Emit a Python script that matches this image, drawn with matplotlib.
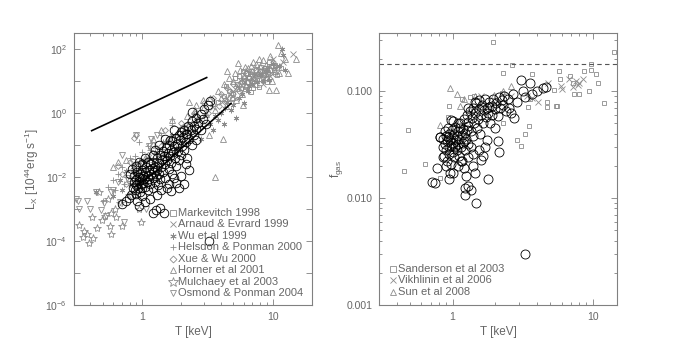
import matplotlib
matplotlib.use("Agg")
import matplotlib.pyplot as plt
from matplotlib.ticker import FixedLocator, FixedFormatter, NullLocator, NullFormatter

plt.rcParams['font.family'] = ['Liberation Sans', 'DejaVu Sans']
plt.rcParams['mathtext.fontset'] = 'custom'
plt.rcParams['mathtext.rm'] = 'Liberation Sans'
plt.rcParams['mathtext.it'] = 'Liberation Sans:italic'
plt.rcParams['mathtext.default'] = 'regular'

GREY = '#8c8c8c'
AXC = '#808080'
TXT = '#666666'

# ---------------- left panel: L_X - T ----------------
# black circles (group sample)
lx_circ = [
    (0.85, 0.0045), (0.86, 0.007), (0.87, 0.011), (0.88, 0.004), (0.89, 0.0055), (0.9, 0.0085),
    (0.9, 0.003), (0.91, 0.014), (0.92, 0.006), (0.93, 0.0045), (0.94, 0.01), (0.95, 0.0075),
    (0.96, 0.0035), (0.97, 0.0125), (0.98, 0.006), (0.99, 0.009), (1.0, 0.0045), (1.0, 0.016),
    (1.01, 0.0065), (1.02, 0.011), (1.04, 0.0085), (1.05, 0.005), (1.06, 0.014), (1.07, 0.02),
    (1.08, 0.007), (1.1, 0.0105), (1.1, 0.004), (1.12, 0.016), (1.13, 0.0085), (1.15, 0.025),
    (1.15, 0.006), (1.17, 0.012), (1.18, 0.0185), (1.2, 0.009), (1.2, 0.0045), (1.22, 0.03),
    (1.23, 0.014), (1.25, 0.007), (1.26, 0.021), (1.28, 0.011), (1.3, 0.04), (1.3, 0.017),
    (1.32, 0.0055), (1.34, 0.027), (1.35, 0.012), (1.37, 0.0085), (1.38, 0.05), (1.4, 0.02),
    (1.42, 0.033), (1.44, 0.014),
    (1.45, 0.065), (1.47, 0.045), (1.5, 0.025), (1.5, 0.009), (1.52, 0.08), (1.55, 0.035),
    (1.57, 0.055), (1.6, 0.018), (1.6, 0.1), (1.63, 0.045), (1.65, 0.07), (1.67, 0.028),
    (1.7, 0.13), (1.7, 0.012), (1.73, 0.06), (1.75, 0.09), (1.78, 0.04), (1.8, 0.16),
    (1.82, 0.022), (1.85, 0.11), (1.88, 0.065), (1.9, 0.2), (1.92, 0.035), (1.95, 0.14),
    (1.98, 0.05), (2.0, 0.25), (2.02, 0.09), (2.05, 0.18), (2.1, 0.3), (2.1, 0.07),
    (2.15, 0.12), (2.2, 0.22), (2.2, 0.04),
    (2.25, 0.4), (2.3, 0.15), (2.35, 0.3), (2.4, 0.55), (2.4, 0.1), (2.5, 0.38), (2.5, 0.2),
    (2.6, 0.7), (2.6, 0.14), (2.7, 0.5), (2.8, 0.95), (2.8, 0.3), (2.9, 0.65), (3.0, 1.3),
    (3.1, 0.45), (3.2, 1.8), (3.3, 2.3), (2.4, 1.07),
    (0.75, 0.0018), (0.7, 0.0014), (0.79, 0.0022), (0.82, 0.0028), (0.92, 0.0018), (0.95, 0.0012),
    (1.0, 0.0025), (1.05, 0.0016), (1.2, 0.00075), (1.27, 0.0009), (1.36, 0.0011), (1.48, 0.00075),
    (1.15, 0.0021), (1.3, 0.0028), (1.4, 0.004), (1.55, 0.0045), (1.6, 0.006), (1.67, 0.0037),
    (1.8, 0.0065), (1.93, 0.0044), (2.1, 0.006), (2.0, 0.011), (2.17, 0.026), (2.3, 0.017),
    (1.75, 0.009), (3.27, 0.0001),
    (0.8, 0.012), (0.83, 0.018), (0.9, 0.022), (0.95, 0.03), (1.0, 0.025), (1.05, 0.04),
    (1.1, 0.03), (1.2, 0.05), (1.25, 0.07), (1.35, 0.1), (1.5, 0.15), (1.62, 0.14), (1.75, 0.3),
    (2.17, 0.22), (2.6, 0.31),
]

markevitch = [
    (3.8, 2.2), (4.2, 3.5), (4.6, 5.0), (5.0, 4.0), (5.3, 8.0), (5.7, 6.0), (6.0, 10), (6.3, 7.0),
    (6.6, 12), (7.0, 9.0), (7.3, 15), (7.6, 11), (8.0, 20), (8.4, 13), (8.8, 25), (9.2, 17),
    (9.7, 30), (10.2, 22), (6.8, 4.5), (5.5, 14), (10.8, 15), (7.8, 6.5), (4.9, 2.8), (9.0, 9.0),
    (6.2, 18), (5.1, 12), (5.9, 20), (6.7, 16), (7.5, 22), (8.2, 27), (9.4, 40), (10.5, 32),
    (11.5, 25), (6.1, 5.5), (7.1, 6.0), (4.4, 7.0), (8.9, 12),
]
arnaud = [
    (14.2, 68), (11, 30), (9, 25), (8, 18), (7, 12), (6, 9), (5, 5), (4.5, 3), (3.5, 1.5),
    (10, 50), (12, 40), (6.5, 20), (8.5, 8), (5.6, 11), (7.6, 25), (4.1, 2.2), (9.5, 14),
    (6.2, 13), (7.3, 17), (8.8, 22), (9.8, 17), (5.4, 7), (4.7, 4),
]
wu = [
    (0.44, 0.0033), (11.7, 100), (11.2, 30), (12.5, 22), (2.5, 0.3), (3.0, 0.8), (3.5, 0.3),
    (4.0, 1.0), (4.8, 1.2), (5.5, 3.0), (6.0, 2.0), (7.0, 8.0), (8.0, 15), (9.0, 20), (10, 35),
    (2.0, 0.1), (1.5, 0.05), (1.2, 0.02), (0.9, 0.008), (0.7, 0.004), (3.8, 0.6), (4.5, 2.2),
    (2.8, 0.15), (3.3, 0.45), (2.2, 0.25), (1.8, 0.08), (1.3, 0.012), (1.0, 0.015), (0.8, 0.006),
    (0.6, 0.0025), (5.2, 0.7), (6.5, 5), (8.5, 10), (12.0, 65), (4.2, 0.45),
    (3.6, 0.8), (4.3, 1.4), (5.0, 1.8), (5.8, 4.0), (6.6, 7.0), (7.6, 9.5), (9.4, 11), (2.6, 0.6),
    (2.1, 0.4), (1.7, 0.2), (1.45, 0.12), (1.25, 0.06), (1.1, 0.04), (0.95, 0.03), (0.85, 0.02),
    (0.75, 0.015), (0.68, 0.008), (0.9, 0.012), (1.0, 0.009),
]
helsdon = [
    (1.7, 0.41), (1.7, 0.63), (0.95, 0.12), (0.8, 0.04), (0.7, 0.02), (1.0, 0.06), (1.2, 0.03),
    (0.6, 0.008), (0.85, 0.015), (1.3, 0.08), (1.5, 0.12), (2.2, 0.5), (0.55, 0.005), (0.9, 0.025),
    (1.1, 0.09), (2.5, 0.9), (0.75, 0.01), (0.65, 0.012), (1.05, 0.035), (0.78, 0.003),
    (0.92, 0.005), (1.4, 0.2), (0.5, 0.0018), (0.72, 0.006), (0.82, 0.009), (0.88, 0.045),
    (1.15, 0.07), (0.62, 0.004), (0.98, 0.018),
]
xue = [
    (0.65, 0.022), (0.9, 0.2), (0.87, 0.17), (1.2, 0.1), (1.5, 0.3), (2.0, 0.5), (3.0, 2.0),
    (4.0, 4.0), (5.0, 8.0), (6.0, 12), (7.0, 15), (8.0, 20), (9.0, 18), (10, 30), (2.5, 1.0),
    (1.8, 0.2), (1.1, 0.05), (0.8, 0.03), (0.7, 0.012), (3.5, 3.0), (4.5, 6.0), (5.5, 5.0),
    (6.5, 9.0), (0.75, 0.006), (1.0, 0.02), (1.35, 0.04), (2.7, 0.6),
    (3.2, 1.0), (3.9, 1.6), (4.3, 2.6), (5.2, 6.5), (5.8, 9.5), (6.8, 11), (7.5, 13), (8.7, 15),
    (2.9, 0.45), (2.3, 0.4), (1.6, 0.15), (1.4, 0.09),
]
horner = [
    (4.0, 3.0), (4.5, 20), (5.0, 10), (5.4, 36), (5.5, 8.0), (6.0, 15), (6.5, 25), (7.0, 20),
    (7.5, 35), (8.0, 30), (8.5, 45), (9.0, 25), (9.5, 60), (10, 40), (10.9, 135), (11.6, 73),
    (12.5, 50), (13, 18), (15, 48), (10.5, 20), (7.2, 12), (6.2, 7.0), (5.8, 4.0), (4.8, 4.5),
    (3.5, 2.0), (3.0, 1.5), (2.56, 1.2), (2.3, 2.2), (2.6, 1.8), (1.7, 0.6), (1.4, 0.3),
    (1.2, 0.15), (0.87, 0.018), (0.65, 0.03), (4.14, 0.15), (3.6, 0.0098), (3.27, 0.2),
    (5.9, 1.8), (9.3, 5.1), (10.6, 5.1), (8.2, 12), (6.8, 30), (7.8, 50), (9.8, 10), (5.2, 2.5),
    (0.75, 0.035), (0.6, 0.02), (1.05, 0.04), (2.0, 0.35),
    (4.2, 8), (4.6, 12), (5.1, 18), (5.6, 22), (6.1, 28), (6.6, 14), (7.1, 40), (7.7, 18),
    (8.3, 22), (8.9, 32), (9.6, 24), (10.4, 28), (11.2, 18), (5.3, 6), (6.4, 10), (7.4, 8),
    (8.6, 16), (3.8, 5), (3.3, 3), (2.9, 2.5), (2.7, 0.7), (3.1, 0.9), (3.6, 1.2), (4.4, 1.6),
    (5.0, 3.2), (2.4, 0.5), (2.2, 0.8), (1.9, 0.25),
]
mulchaey = [
    (0.33, 3.2e-4), (0.36, 2e-4), (0.39, 8.8e-5), (0.41, 5.7e-4), (0.49, 4.4e-4), (0.58, 7.5e-4),
    (0.58, 1.7e-4), (0.57, 2.9e-4), (0.63, 5.5e-4), (0.95, 1e-3), (0.98, 4e-4), (0.67, 1.5e-3),
    (0.47, 3.3e-3), (0.35, 1.3e-4), (0.42, 1.2e-4), (0.52, 6e-4), (0.7, 3e-4), (0.45, 2.5e-4),
    (0.62, 1e-3), (0.38, 1.6e-4), (0.55, 2e-3),
]
osmond = [
    (0.32, 1.8e-3), (0.33, 1e-3), (0.38, 1.8e-3), (0.44, 3.3e-3), (0.51, 1.5e-3), (0.53, 6.2e-4),
    (0.73, 3.8e-4), (0.9, 0.2), (1.17, 0.15), (1.44, 0.06), (1.7, 0.1), (1.07, 1e-3), (0.6, 0.004),
    (0.8, 0.006), (0.31, 2e-3), (0.48, 9e-4), (0.7, 0.05), (1.3, 0.2), (2.0, 0.3), (0.9, 0.012),
    (1.0, 0.03), (0.4, 1e-3), (0.82, 0.0025), (0.68, 0.0016), (0.58, 0.0035), (0.77, 0.009),
    (0.85, 0.03), (0.65, 0.007), (1.12, 0.09),
]
fit_T = [0.92, 1.3, 4.8]
fit_L = [0.0055, 0.016, 2.0]
ss_T = [0.41, 3.12]
ss_L = [0.28, 12.8]

lx_labels = ['Markevitch 1998', 'Arnaud & Evrard 1999', 'Wu et al 1999', 'Helsdon & Ponman 2000',
             'Xue & Wu 2000', 'Horner et al 2001', 'Mulchaey et al 2003', 'Osmond & Ponman 2004']

# ---------------- right panel: f_gas - T ----------------
fg_circ = [
    (0.85, 0.03), (0.86, 0.036), (0.87, 0.025), (0.88, 0.042), (0.89, 0.032), (0.9, 0.028),
    (0.9, 0.038), (0.91, 0.022), (0.92, 0.034), (0.93, 0.045), (0.94, 0.03), (0.95, 0.026),
    (0.95, 0.04), (0.96, 0.035), (0.97, 0.021), (0.98, 0.031), (0.99, 0.043), (1.0, 0.037),
    (1.0, 0.027), (1.01, 0.033), (1.02, 0.024), (1.03, 0.04), (1.04, 0.03), (1.05, 0.046),
    (1.06, 0.035), (1.07, 0.028), (1.08, 0.038), (1.1, 0.032), (1.1, 0.042), (1.11, 0.025),
    (1.12, 0.036), (1.14, 0.05), (1.15, 0.03), (1.16, 0.039), (1.17, 0.022), (1.18, 0.044),
    (1.2, 0.034), (1.2, 0.055), (1.22, 0.028), (1.23, 0.041), (1.25, 0.036), (1.26, 0.06),
    (1.28, 0.047), (1.3, 0.032), (1.3, 0.052),
    (1.33, 0.065), (1.35, 0.042), (1.37, 0.056), (1.4, 0.07), (1.4, 0.038), (1.43, 0.05),
    (1.45, 0.062), (1.48, 0.078), (1.5, 0.045), (1.52, 0.055), (1.55, 0.068), (1.58, 0.04),
    (1.6, 0.06), (1.62, 0.075), (1.65, 0.05), (1.68, 0.066), (1.7, 0.085), (1.72, 0.057),
    (1.75, 0.07), (1.8, 0.062), (1.82, 0.08), (1.85, 0.05), (1.9, 0.072), (1.92, 0.06),
    (1.95, 0.085), (2.0, 0.068), (2.05, 0.078), (2.1, 0.058), (2.15, 0.088), (2.2, 0.07),
    (2.25, 0.082), (2.3, 0.075), (2.35, 0.09), (2.4, 0.065), (2.5, 0.085), (2.55, 0.07),
    (2.6, 0.062), (2.77, 0.056), (2.7, 0.095),
    (3.1, 0.127), (3.6, 0.118), (4.4, 0.106), (4.66, 0.11), (3.2, 0.1), (3.7, 0.094),
    (2.9, 0.08), (3.3, 0.088), (4.0, 0.1),
    (3.27, 0.003), (1.48, 0.0089), (1.22, 0.0108), (1.36, 0.012), (1.79, 0.015), (0.75, 0.0139),
    (0.71, 0.014), (0.77, 0.019), (0.81, 0.037), (0.96, 0.017), (1.0, 0.017), (0.95, 0.015),
    (1.0, 0.053), (1.15, 0.022), (1.6, 0.0226), (2.14, 0.027), (2.1, 0.034), (1.7, 0.03),
    (1.3, 0.013), (1.25, 0.016), (1.4, 0.02), (1.45, 0.017), (1.2, 0.019), (1.1, 0.02),
    (0.85, 0.024), (0.9, 0.02), (1.3, 0.024), (1.55, 0.028), (1.75, 0.035), (1.65, 0.025),
    (2.0, 0.045), (1.35, 0.03), (1.4, 0.026), (1.23, 0.0125),
    (1.45, 0.08), (1.3, 0.07), (1.54, 0.082), (1.81, 0.071), (0.97, 0.054), (0.82, 0.037),
    (1.05, 0.031), (1.13, 0.045), (0.93, 0.037), (1.18, 0.033), (1.27, 0.043), (1.09, 0.05),
]
sanderson = [
    (1.95, 0.29), (2.67, 0.176), (2.3, 0.147), (3.68, 0.146), (5.8, 0.156), (5.9, 0.13),
    (9.7, 0.18), (9.8, 0.157), (8.7, 0.153), (10.6, 0.145), (10.9, 0.12), (14.3, 0.23),
    (12.1, 0.078), (9.4, 0.1), (8.0, 0.094), (7.4, 0.094), (6.9, 0.139), (7.3, 0.12),
    (5.33, 0.103), (5.5, 0.073), (5.6, 0.073), (4.73, 0.079), (4.7, 0.071), (3.5, 0.047),
    (3.3, 0.04), (3.07, 0.031), (2.9, 0.035), (3.45, 0.071), (3.55, 0.084), (2.27, 0.097),
    (2.3, 0.05), (1.16, 0.084), (0.95, 0.072), (0.93, 0.057), (0.48, 0.043), (0.45, 0.018),
    (0.64, 0.021), (0.81, 0.0155), (1.34, 0.088), (1.42, 0.09),
]
vikhlinin = [
    (4.06, 0.08), (4.8, 0.118), (5.95, 0.112), (6.0, 0.105), (7.2, 0.11), (8.0, 0.12),
    (7.6, 0.125), (8.6, 0.13), (2.6, 0.09), (1.6, 0.09), (3.4, 0.09), (6.8, 0.13), (3.7, 0.087),
    (7.9, 0.113),
]
sun = [
    (0.96, 0.106), (1.07, 0.095), (1.14, 0.072), (0.81, 0.048), (1.34, 0.066), (1.44, 0.09),
    (1.97, 0.092), (2.6, 0.112), (2.3, 0.1), (1.2, 0.085), (2.1, 0.08),
]
f_baryon = 0.18
fg_labels = ['Sanderson et al 2003', 'Vikhlinin et al 2006', 'Sun et al 2008']


def scatter(ax, data, marker, color, ms, mew=0.6):
    T, v = zip(*data)
    ax.plot(T, v, ls='none', marker=marker, mfc='none', mec=color, ms=ms, mew=mew)


def style(ax):
    ax.set_xscale('log')
    ax.set_yscale('log')
    for s in ax.spines.values():
        s.set_color(AXC)
        s.set_linewidth(0.8)
    ax.tick_params(which='both', direction='in', top=True, right=True,
                   colors=AXC, labelcolor=TXT, labelsize=7.5)
    ax.tick_params(which='major', length=4, width=0.6, pad=5)
    ax.tick_params(which='minor', length=2, width=0.6)
    ax.xaxis.set_major_locator(FixedLocator([1, 10]))
    ax.xaxis.set_major_formatter(FixedFormatter(['1', '10']))
    ax.xaxis.set_minor_locator(FixedLocator([0.3, 0.4, 0.5, 0.6, 0.7, 0.8, 0.9,
                                             2, 3, 4, 5, 6, 7, 8, 9, 20]))
    ax.xaxis.set_minor_formatter(NullFormatter())
    ax.set_xlabel('T [keV]', fontsize=8.5, color=TXT, labelpad=3)


def legend(ax, entries, x0, y0, dy):
    for i, (marker, label, ms) in enumerate(entries):
        y = y0 - i * dy
        ax.plot([x0], [y], transform=ax.transAxes, marker=marker, ms=ms, mfc='none',
                mec=GREY, mew=0.6, ls='none', clip_on=False)
        ax.text(x0 + 0.022, y, label, transform=ax.transAxes, fontsize=8,
                color=TXT, va='center', ha='left')


fig = plt.figure(figsize=(6.78, 3.39), dpi=100)
ax1 = fig.add_axes([0.1091, 0.1003, 0.351, 0.8024])
ax2 = fig.add_axes([0.5594, 0.1003, 0.351, 0.8024])

# left
scatter(ax1, markevitch, 's', GREY, 3.5)
scatter(ax1, arnaud, 'x', GREY, 3.8)
scatter(ax1, wu, (6, 2, 0), GREY, 4)
scatter(ax1, helsdon, '+', GREY, 4)
scatter(ax1, xue, 'D', GREY, 3)
scatter(ax1, horner, '^', GREY, 3.8)
scatter(ax1, mulchaey, '*', GREY, 6)
scatter(ax1, osmond, 'v', GREY, 3.8)
scatter(ax1, lx_circ, 'o', 'black', 6.2, 0.6)
ax1.plot(fit_T, fit_L, color='black', lw=1.2)
ax1.plot(ss_T, ss_L, color='black', lw=1.2)
style(ax1)
ax1.set_xlim(0.3, 20)
ax1.set_ylim(1e-6, 10 ** 2.5)
exps = list(range(-6, 3))
ax1.yaxis.set_major_locator(FixedLocator([10.0 ** k for k in exps]))
ax1.yaxis.set_major_formatter(FixedFormatter(
    [r'$10^{%d}$' % k if k % 2 == 0 else '' for k in exps]))
ax1.yaxis.set_minor_locator(NullLocator())
ax1.set_ylabel(r'L$_X$ [10$^{44}$erg s$^{-1}$]', fontsize=8.5, color=TXT, labelpad=3)
legend(ax1, [('s', lx_labels[0], 5), ('x', lx_labels[1], 4.5), ((6, 2, 0), lx_labels[2], 4.5),
             ('+', lx_labels[3], 4.5), ('D', lx_labels[4], 3.5), ('^', lx_labels[5], 4.5),
             ('*', lx_labels[6], 7), ('v', lx_labels[7], 4.5)],
       0.416, 0.338, 0.042)

# right
scatter(ax2, sanderson, 's', GREY, 3.5)
scatter(ax2, vikhlinin, 'x', GREY, 3.8)
scatter(ax2, sun, '^', GREY, 3.8)
scatter(ax2, fg_circ, 'o', 'black', 6.5, 0.6)
ax2.axhline(f_baryon, color='#555555', lw=0.8, ls=(0, (4, 3)))
style(ax2)
ax2.set_xlim(0.3, 15)
ax2.set_ylim(0.001, 0.35)
ax2.yaxis.set_major_locator(FixedLocator([0.001, 0.01, 0.1]))
ax2.yaxis.set_major_formatter(FixedFormatter(['0.001', '0.010', '0.100']))
ax2.yaxis.set_minor_locator(FixedLocator([m * d for d in (0.001, 0.01, 0.1)
                                          for m in range(2, 10) if m * d <= 0.35]))
ax2.yaxis.set_minor_formatter(NullFormatter())
ax2.set_ylabel(r'f$_{gas}$', fontsize=8.5, color=TXT, labelpad=1)
legend(ax2, [('s', fg_labels[0], 5), ('x', fg_labels[1], 4.5), ('^', fg_labels[2], 4.5)],
       0.058, 0.1335, 0.042)

fig.savefig('out.png', dpi=100)
